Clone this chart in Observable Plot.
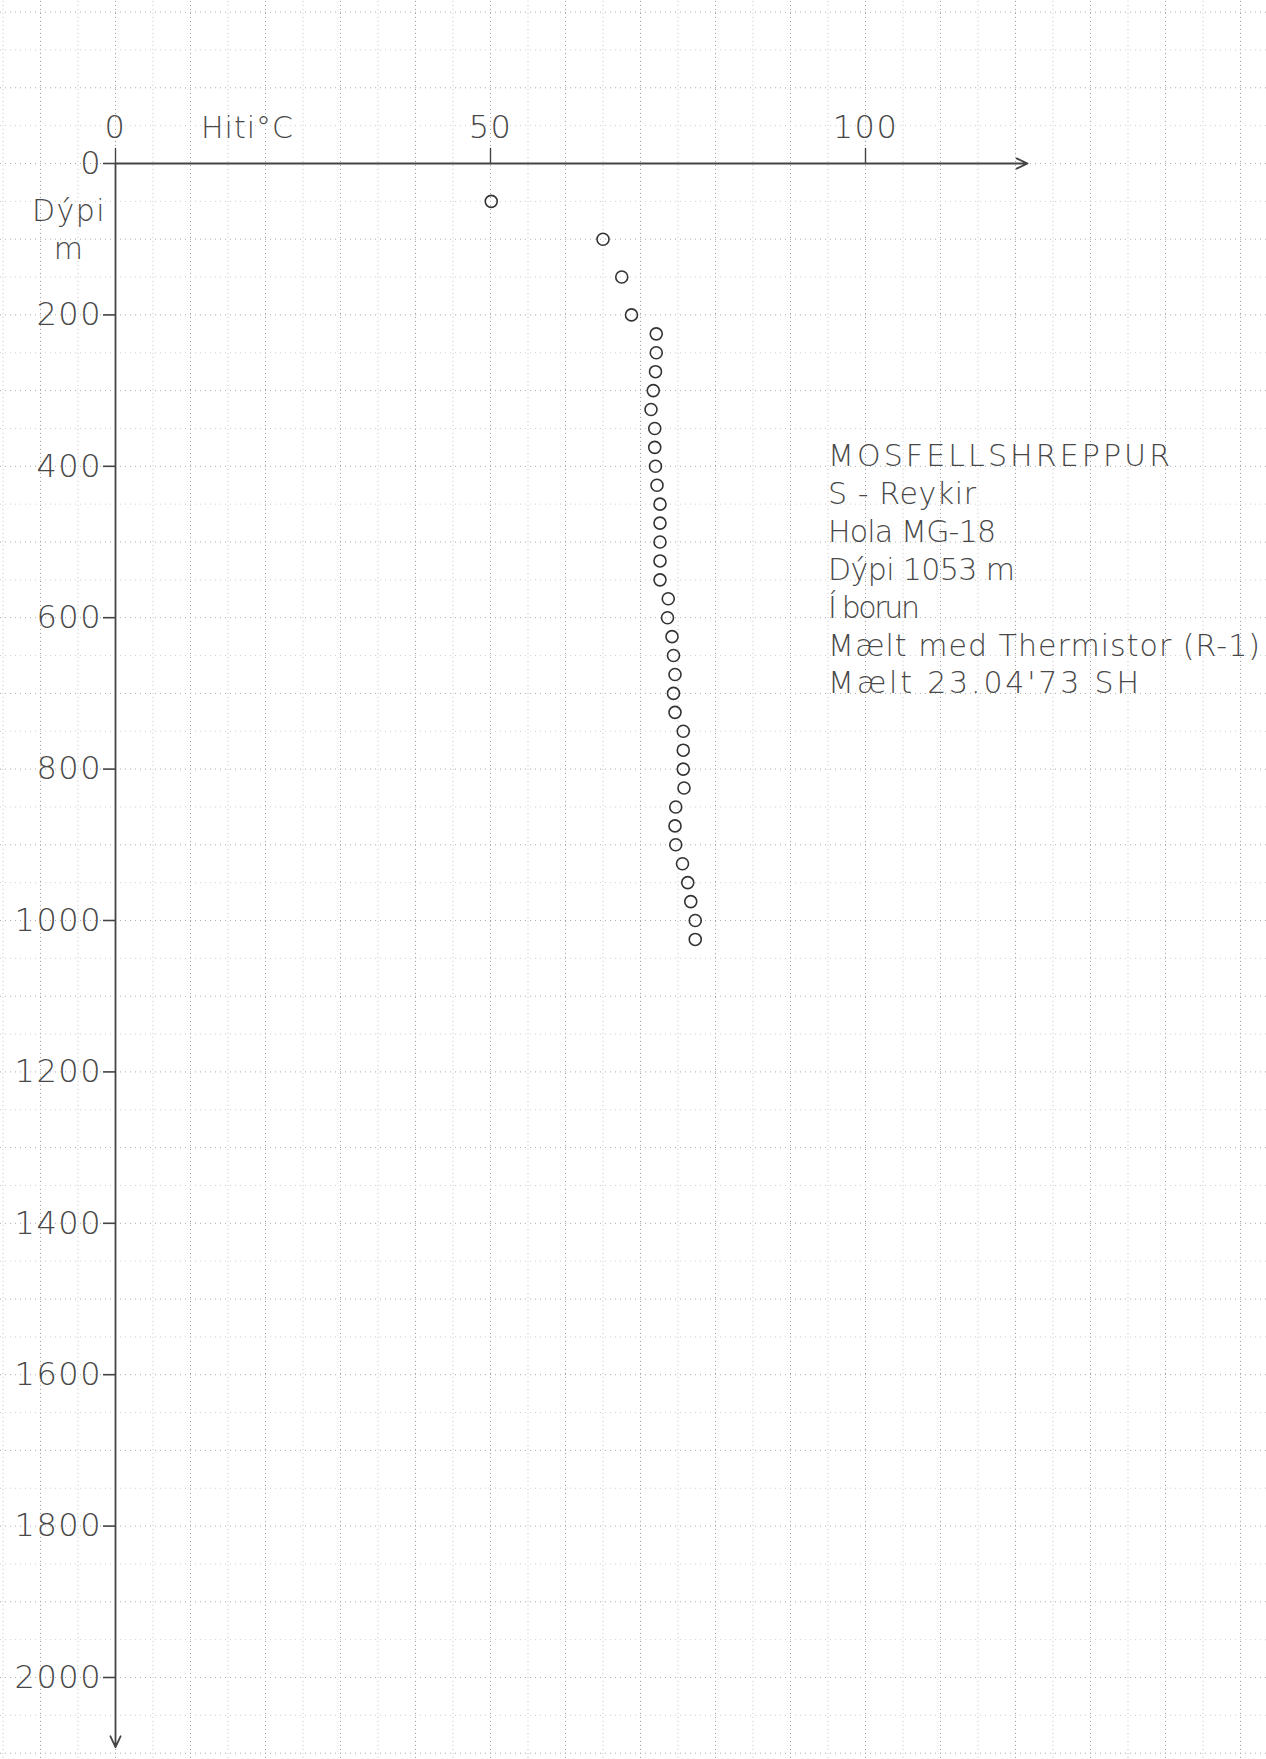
<!DOCTYPE html>
<html>
<head>
<meta charset="utf-8">
<script src="https://cdn.jsdelivr.net/npm/d3@7"></script>
<script src="https://cdn.jsdelivr.net/npm/@observablehq/plot@0.6"></script>
<style>
html, body { margin: 0; padding: 0; background: #fff; }
#chart svg { display: block; }
</style>
</head>
<body>
<div id="chart"></div>
<script>
// ---- data ----
const depths = [50, 100, 150, 200, 225, 250, 275, 300, 325, 350, 375, 400, 425, 450, 475, 500,
  525, 550, 575, 600, 625, 650, 675, 700, 725, 750, 775, 800, 825, 850, 875, 900, 925, 950, 975, 1000, 1025];
const temps = [50.1, 65.0, 67.5, 68.8, 72.1, 72.1, 72.0, 71.7, 71.4, 71.9, 71.9, 72.0, 72.2, 72.6, 72.6, 72.6,
  72.6, 72.6, 73.7, 73.6, 74.2, 74.4, 74.6, 74.4, 74.6, 75.7, 75.7, 75.7, 75.8, 74.7, 74.6, 74.7, 75.6, 76.3, 76.7, 77.3, 77.3];

const xTicks = [0, 50, 100];
const xTickLabels = ["0", "50", "100"];
const yTicks = [0, 200, 400, 600, 800, 1000, 1200, 1400, 1600, 1800, 2000];
const yTickLabels = ["0", "200", "400", "600", "800", "1000", "1200", "1400", "1600", "1800", "2000"];
const xTitle = "Hiti°C";
const yTitleLines = ["Dýpi", "m"];
const infoLines = [
  "MOSFELLSHREPPUR",
  "S - Reykir",
  "Hola MG-18",
  "Dýpi 1053 m",
  "Í borun",
  "Mælt med Thermistor (R-1)",
  "Mælt 23.04'73 SH"
];
// widths (px) of the hand-lettered lines
const infoWidths = [342, 148, 168, 187, 92, 432, 311];

// ---- layout constants ----
const axisEndT = 121.6;      // x-axis arrow end (°C units)
const axisEndDepth = 2092;   // y-axis arrow end (m)
const infoT = 95.0;          // left edge of info block (°C units)
const infoTopDepth = 400;    // baseline of first info line
const infoStep = 50;         // line step in metres

const data = depths.map((d, i) => ({depth: d, temp: temps[i]}));
const gridT = d3.range(-15, 160, 5);
const gridD = d3.range(-200, 2150, 50);
const infoData = infoLines.map((t, i) => ({t, depth: infoTopDepth + i * infoStep}));
const ink = "#484848";

const chart = Plot.plot({
  width: 1266,
  height: 1759,
  marginLeft: 115,
  marginRight: 401,
  marginTop: 163,
  marginBottom: 82,
  x: {domain: [0, 100], axis: null},
  y: {domain: [0, 2000], reverse: true, axis: null},
  style: {background: "#fff", fontFamily: "DejaVu Sans", color: ink, overflow: "visible"},
  marks: [
    // graph-paper grid
    Plot.ruleX(gridT, {x: d => d, y1: -230, y2: 2130, stroke: d => d % 10 === 0 ? "#999" : "#c4c4c4", strokeWidth: 1, strokeDasharray: "1 3"}),
    Plot.ruleY(gridD, {y: d => d, x1: -16, x2: 155, stroke: d => d % 100 === 0 ? "#aaa" : "#cfcfcf", strokeWidth: 1, strokeDasharray: "1 4"}),
    // axes with arrows
    Plot.arrow([{x1: 0, y1: 0, x2: axisEndT, y2: 0}], {x1: "x1", y1: "y1", x2: "x2", y2: "y2", stroke: "#444", strokeWidth: 1.8, headLength: 10, headAngle: 50}),
    Plot.arrow([{x1: 0, y1: 0, x2: 0, y2: axisEndDepth}], {x1: "x1", y1: "y1", x2: "x2", y2: "y2", stroke: "#444", strokeWidth: 1.8, headLength: 10, headAngle: 50}),
    // ticks
    Plot.ruleY(yTicks, {y: d => d, x1: -1.6, x2: 0, stroke: "#444", strokeWidth: 1.6}),
    Plot.ruleX(xTicks, {x: d => d, y1: -20, y2: 0, stroke: "#444", strokeWidth: 1.4}),
    // tick labels
    Plot.text(yTicks, {x: -1.8, y: d => d, text: (d, i) => yTickLabels[i], textAnchor: "end", lineAnchor: "middle", fontSize: 32, fontWeight: 300, fill: ink}),
    Plot.text(xTicks, {x: d => d, y: -47, text: (d, i) => xTickLabels[i], textAnchor: "middle", lineAnchor: "middle", fontSize: 32, fontWeight: 300, fill: ink}),
    // axis titles
    Plot.text([xTitle], {x: 11.4, y: -47, text: d => d, textAnchor: "start", lineAnchor: "middle", fontSize: 30, fontWeight: 300, fill: ink}),
    Plot.text(yTitleLines, {x: -6.2, y: (d, i) => 63 + i * 50, text: d => d, textAnchor: "middle", lineAnchor: "middle", fontSize: 30, fontWeight: 300, fill: ink}),
    // info block
    Plot.text(infoData, {x: infoT, y: "depth", text: "t", textAnchor: "start", lineAnchor: "bottom", fontSize: 30, fontWeight: 300, fill: ink}),
    // measurements
    Plot.dot(data, {x: "temp", y: "depth", r: 6, stroke: "#333", strokeWidth: 1.6, fill: "none"})
  ]
});

// hand-lettered spacing
d3.select(chart).selectAll("text").each(function () {
  const t = this.textContent;
  const k = infoLines.indexOf(t);
  if (k >= 0) {
    this.setAttribute("textLength", infoWidths[k]);
    this.setAttribute("lengthAdjust", "spacing");
  } else if (yTickLabels.includes(t) || xTickLabels.includes(t)) {
    this.setAttribute("letter-spacing", "1.5px");
  } else if (t === xTitle) {
    this.setAttribute("letter-spacing", "1px");
  } else if (yTitleLines.includes(t)) {
    this.setAttribute("letter-spacing", "1.5px");
  }
});
document.getElementById("chart").appendChild(chart);
</script>
</body>
</html>
